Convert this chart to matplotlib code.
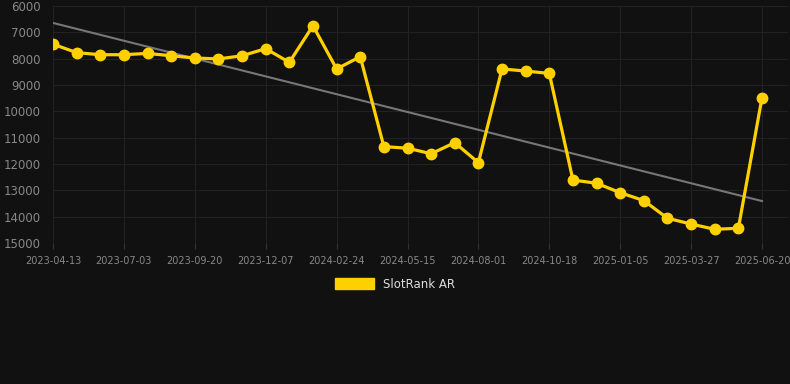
import numpy as np
from matplotlib import pyplot as plt

# rank values, one point per step (31 points), x is category index
ranks = [7450, 7770, 7850, 7850, 7800, 7890, 7975, 8010, 7890, 7620,
         8140, 6750, 8390, 7925, 11340, 11400, 11610, 11190, 11950, 8390,
         8470, 8560, 12610, 12730, 13090, 13390, 14060, 14280, 14480, 14440,
         9480]
tick_labels = ['2023-04-13', '2023-07-03', '2023-09-20', '2023-12-07', '2024-02-24',
               '2024-05-15', '2024-08-01', '2024-10-18', '2025-01-05', '2025-03-27',
               '2025-06-20']
y_ticks = [6000, 7000, 8000, 9000, 10000, 11000, 12000, 13000, 14000, 15000]
series_name = 'SlotRank AR'

bg = '#111111'
gold = '#FFD000'

fig = plt.figure(figsize=(7.9, 3.84), dpi=100, facecolor=bg)
ax = fig.add_axes([53/790, 1-243/384, (788-53)/790, (243-6)/384])
ax.set_facecolor(bg)

x = np.arange(len(ranks))
# trend line (linear fit)
k, b = np.polyfit(x, ranks, 1)
ax.plot([x[0], x[-1]], [k*x[0]+b, k*x[-1]+b], color='#777777', lw=1.5, zorder=2)

ax.plot(x, ranks, color=gold, lw=2.3, marker='o', ms=7.5, zorder=3, label=series_name)

ax.set_ylim(15000, 6000)
ax.set_xlim(0, 31.1)
ax.set_yticks(y_ticks)
ax.set_xticks(x[::3])
ax.set_xticklabels(tick_labels)
ax.tick_params(axis='y', colors='#888888', labelsize=8.5, length=0, pad=9)
ax.tick_params(axis='x', colors='#888888', labelsize=7, length=4, color='#333333', pad=5)
ax.grid(True, color='#222222', lw=0.8)
for s in ax.spines.values():
    s.set_visible(False)

leg = fig.legend(handles=[plt.Rectangle((0, 0), 1, 1, color=gold)], labels=[series_name],
                 loc='center', bbox_to_anchor=(395/790, 1-284/384), frameon=False,
                 handlelength=3.3, handleheight=1.0, fontsize=8.5)
for t in leg.get_texts():
    t.set_color('#dddddd')

fig.savefig('out.png', dpi=100, facecolor=bg)
